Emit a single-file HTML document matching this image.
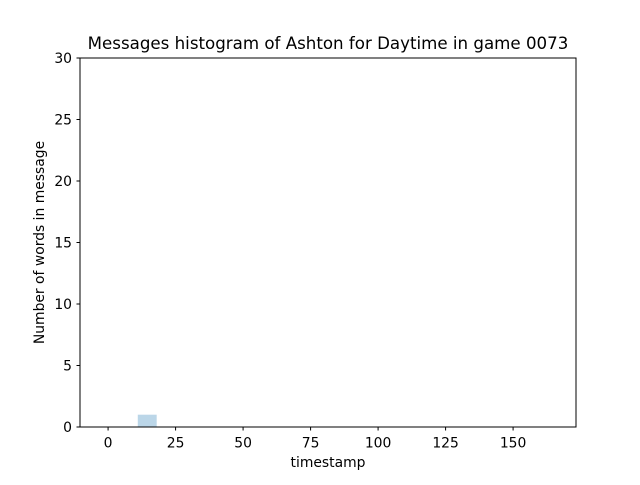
<!DOCTYPE html>
<html><head><meta charset="utf-8"><style>
body{margin:0;background:#fff;}
svg text{font-family:"DejaVu Sans","Liberation Sans",sans-serif;fill:#000;}
</style></head><body>
<svg id="chart" width="640" height="480" xmlns="http://www.w3.org/2000/svg">
<rect width="640" height="480" fill="#fff"/>
<text x="328" y="49" font-size="16.67" text-anchor="middle">Messages histogram of Ashton for Daytime in game 0073</text>
<g id="bars"></g>
<rect x="80" y="58" width="496" height="369" fill="none" stroke="#000" stroke-width="1"/>
<g id="xticks"></g><g id="yticks"></g>
<text x="328" y="467" font-size="13.9" text-anchor="middle">timestamp</text>
<text transform="translate(44,242.5) rotate(-90)" font-size="13.9" text-anchor="middle">Number of words in message</text>
</svg>
<script>
const binStarts=[11];
const binEnds=[18];
const counts=[1];
const xTicks=[0,25,50,75,100,125,150];
const yTicks=[0,5,10,15,20,25,30];
const X0=80,X1=576,Y0=427,Y1=58,xmin=-10.4,xmax=173.3,ymin=0,ymax=30;
const sx=v=>X0+(v-xmin)/(xmax-xmin)*(X1-X0);
const sy=v=>Y0-(v-ymin)/(ymax-ymin)*(Y0-Y1);
const NS="http://www.w3.org/2000/svg";
function mk(t,a){const e=document.createElementNS(NS,t);for(const k in a)e.setAttribute(k,a[k]);return e;}
const bars=document.getElementById('bars');
counts.forEach((c,i)=>{
 const r=mk('rect',{x:sx(binStarts[i]),y:sy(c),width:sx(binEnds[i])-sx(binStarts[i]),height:sy(0)-sy(c),fill:'#1f77b4','fill-opacity':0.3});
 
 
 bars.appendChild(r);
});
const xt=document.getElementById('xticks');
xTicks.forEach(v=>{
 const x=sx(v);
 const l=mk('line',{x1:x,x2:x,y1:427,y2:430.5,stroke:'#000'});
 
 
 xt.appendChild(l);
 const t=mk('text',{x:x,y:447.5,'font-size':13.9,'text-anchor':'middle'});
 t.textContent=v;
 
 
 xt.appendChild(t);
});
const yt=document.getElementById('yticks');
yTicks.forEach(v=>{
 const y=sy(v);
 const l=mk('line',{x1:76.5,x2:80,y1:y,y2:y,stroke:'#000'});
 
 
 yt.appendChild(l);
 const t=mk('text',{x:72,y:y+5,'font-size':13.9,'text-anchor':'end'});
 t.textContent=v;
 
 
 yt.appendChild(t);
});
</script>
</body></html>
